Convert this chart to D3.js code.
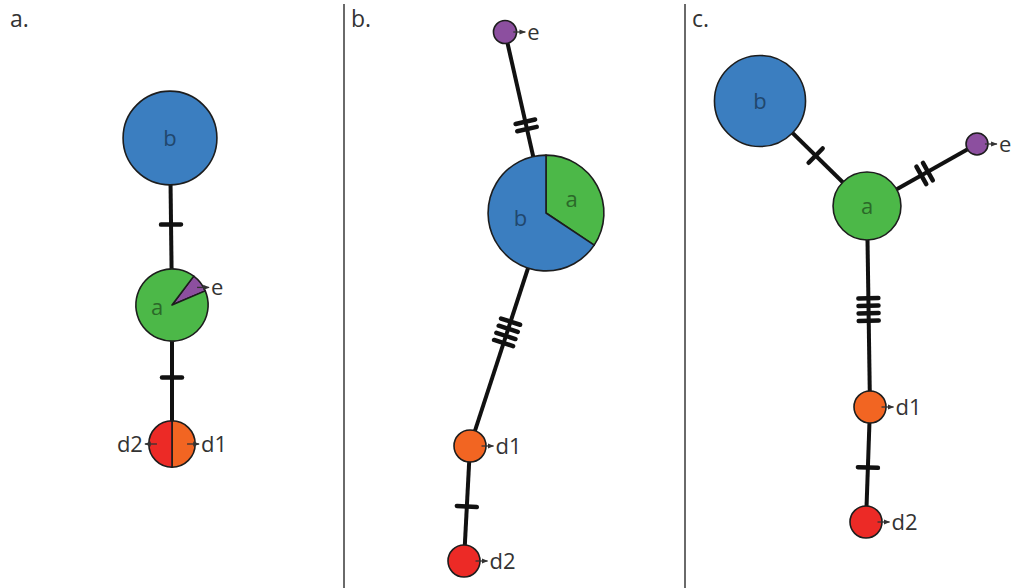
<!DOCTYPE html>
<html><head><meta charset="utf-8">
<script src="https://cdn.jsdelivr.net/npm/d3@7"></script>
<style>html,body{margin:0;padding:0;background:#fff;} svg{display:block}</style>
</head><body>
<svg id="chart" width="1013" height="588"></svg>
<script>
// ---------- data ----------
const panelLabels = ["a.", "b.", "c."];
const haplotypes = ["a", "b", "d1", "d2", "e"];
const haplotypeColors = ["#4cb848", "#3b7ec0", "#f26522", "#ec2a26", "#8c4f9f"];

// panel a nodes: id, layout x, layout y, frequency, haplotype composition, pie start angle (deg)
const nodesA = [
  {id: "b", x: 170, y: 138, count: 8.6, parts: [["b", 1]], start: 0},
  {id: "a", x: 172, y: 305, count: 5.1, parts: [["e", 1], ["a", 11]], start: 37},
  {id: "d", x: 172, y: 444, count: 2.1, parts: [["d1", 1], ["d2", 1]], start: 0}
];
const edgesA = [["b", "a", 1], ["a", "d", 1]];

// panel b
const nodesB = [
  {id: "e", x: 161, y: 32, count: 0.52, parts: [["e", 1]], start: 0},
  {id: "ab", x: 202, y: 213, count: 13.1, parts: [["a", 4.5], ["b", 8.6]], start: 0},
  {id: "d1", x: 126, y: 446, count: 1, parts: [["d1", 1]], start: 0},
  {id: "d2", x: 120, y: 561, count: 1, parts: [["d2", 1]], start: 0}
];
const edgesB = [["e", "ab", 2], ["ab", "d1", 4], ["d1", "d2", 1]];

// panel c
const nodesC = [
  {id: "b", x: 75, y: 101, count: 8.1, parts: [["b", 1]], start: 0},
  {id: "a", x: 182, y: 206, count: 4.5, parts: [["a", 1]], start: 0},
  {id: "e", x: 292, y: 144, count: 0.47, parts: [["e", 1]], start: 0},
  {id: "d1", x: 185, y: 407, count: 1, parts: [["d1", 1]], start: 0},
  {id: "d2", x: 181, y: 522, count: 1, parts: [["d2", 1]], start: 0}
];
const edgesC = [["b", "a", 1], ["a", "e", 2], ["a", "d1", 4], ["d1", "d2", 1]];

const insideLabels = ["a", "b"];      // labelled inside the circle
const panelOffsets = [0, 344, 685];
const panelWidths = [344, 341, 328];

// ---------- drawing ----------
const svg = d3.select("#chart");
const H = 588;
const color = d3.scaleOrdinal().domain(haplotypes).range(haplotypeColors);
const rScale = d3.scaleSqrt().domain([0, 1]).range([0, 16]);
const FONT = "'Open Sans', 'DejaVu Sans', sans-serif";

svg.append("defs").append("marker")
  .attr("id", "arr").attr("viewBox", "0 0 10 10").attr("refX", 9).attr("refY", 5)
  .attr("markerWidth", 5).attr("markerHeight", 5).attr("orient", "auto")
  .append("path").attr("d", "M0,1 L10,5 L0,9 Z").attr("fill", "#333");

// dividers
svg.selectAll("line.divider").data(panelOffsets.slice(1)).join("line")
  .attr("class", "divider")
  .attr("x1", d => d).attr("x2", d => d).attr("y1", 4).attr("y2", H)
  .attr("stroke", "#6a6a6a").attr("stroke-width", 2);

// panel labels
svg.selectAll("text.plabel").data(panelLabels).join("text")
  .attr("class", "plabel")
  .attr("x", (d, i) => panelOffsets[i] + (i === 0 ? 10 : 7))
  .attr("y", 27)
  .attr("font-family", FONT).attr("font-size", 23).attr("fill", "#333")
  .text(d => d);

const panels = [[nodesA, edgesA], [nodesB, edgesB], [nodesC, edgesC]];
const deg = Math.PI / 180;

panels.forEach(([nodes, edges], pi) => {
  const x = d3.scaleLinear().domain([0, panelWidths[pi]]).range([panelOffsets[pi], panelOffsets[pi] + panelWidths[pi]]);
  const y = d3.scaleLinear().domain([0, H]).range([0, H]);
  const g = svg.append("g");
  const byId = new Map(nodes.map(n => [n.id, n]));

  // edges
  const eg = g.append("g");
  edges.forEach(([s, t, m]) => {
    const a = byId.get(s), b = byId.get(t);
    const x1 = x(a.x), y1 = y(a.y), x2 = x(b.x), y2 = y(b.y);
    eg.append("line").attr("x1", x1).attr("y1", y1).attr("x2", x2).attr("y2", y2)
      .attr("stroke", "#111").attr("stroke-width", 4);
    const len = Math.hypot(x2 - x1, y2 - y1);
    const ux = (x2 - x1) / len, uy = (y2 - y1) / len;
    const px = -uy, py = ux;
    const mx = (x1 + x2) / 2 + ux * 3, my = (y1 + y2) / 2 + uy * 3;
    const spacing = 7.5, half = 10;
    d3.range(m).forEach(k => {
      const off = (k - (m - 1) / 2) * spacing;
      const cx = mx + ux * off, cy = my + uy * off;
      eg.append("line")
        .attr("x1", cx - px * half).attr("y1", cy - py * half)
        .attr("x2", cx + px * half).attr("y2", cy + py * half)
        .attr("stroke", "#111").attr("stroke-width", 4.5).attr("stroke-linecap", "round");
    });
  });

  // nodes
  nodes.forEach(n => {
    const cx = x(n.x), cy = y(n.y), r = rScale(n.count);
    const ng = g.append("g").attr("transform", `translate(${cx},${cy})`);
    const pie = d3.pie().sort(null).value(d => d[1])
      .startAngle(n.start * deg).endAngle(n.start * deg + 2 * Math.PI);
    const arcs = pie(n.parts);
    const arc = d3.arc().innerRadius(0).outerRadius(r);
    if (arcs.length === 1) {
      ng.append("circle").attr("r", r).attr("fill", color(n.parts[0][0]))
        .attr("stroke", "#1d1d1d").attr("stroke-width", 1.6);
    } else {
      ng.selectAll("path").data(arcs).join("path")
        .attr("d", arc).attr("fill", d => color(d.data[0]))
        .attr("stroke", "#1d1d1d").attr("stroke-width", 1.6).attr("stroke-linejoin", "round");
    }
    arcs.forEach(d => {
      const h = d.data[0];
      const mid = (d.startAngle + d.endAngle) / 2;
      if (insideLabels.includes(h)) {
        let lx = 0, ly = 0;
        if (arcs.length > 1) {
          const lr = r * 0.5;
          lx = Math.sin(mid) * lr; ly = -Math.cos(mid) * lr;
          if (h === "b") ly -= 8;
          if (h === "a" && pi === 0) { lx = -15; ly = 2; }
        }
        ng.append("text").attr("x", lx).attr("y", ly).attr("dy", "0.35em")
          .attr("text-anchor", "middle")
          .attr("font-family", FONT).attr("font-size", 22)
          .attr("fill", d3.color(color(h)).darker(1.6))
          .text(h);
      } else {
        // arrow label outside
        let sx, sy, dir;
        if (arcs.length > 1) {
          dir = Math.sin(mid) >= 0 ? 1 : -1;
          const rr = h === "e" ? r * 0.88 : r * 0.65;
          sx = Math.sin(mid) * rr; sy = -Math.cos(mid) * rr;
          if (h === "e") sy += 2;
        } else {
          dir = 1; sx = r * 0.72; sy = 0;
        }
        const alen = 12;
        ng.append("line").attr("x1", sx).attr("y1", sy).attr("x2", sx + dir * alen).attr("y2", sy)
          .attr("stroke", "#333").attr("stroke-width", 1.3).attr("marker-end", "url(#arr)");
        ng.append("text").attr("x", sx + dir * (alen + 2)).attr("y", sy).attr("dy", "0.35em")
          .attr("text-anchor", dir > 0 ? "start" : "end")
          .attr("font-family", FONT).attr("font-size", 22).attr("fill", "#333")
          .text(h);
      }
    });
  });
});
</script>
</body></html>
